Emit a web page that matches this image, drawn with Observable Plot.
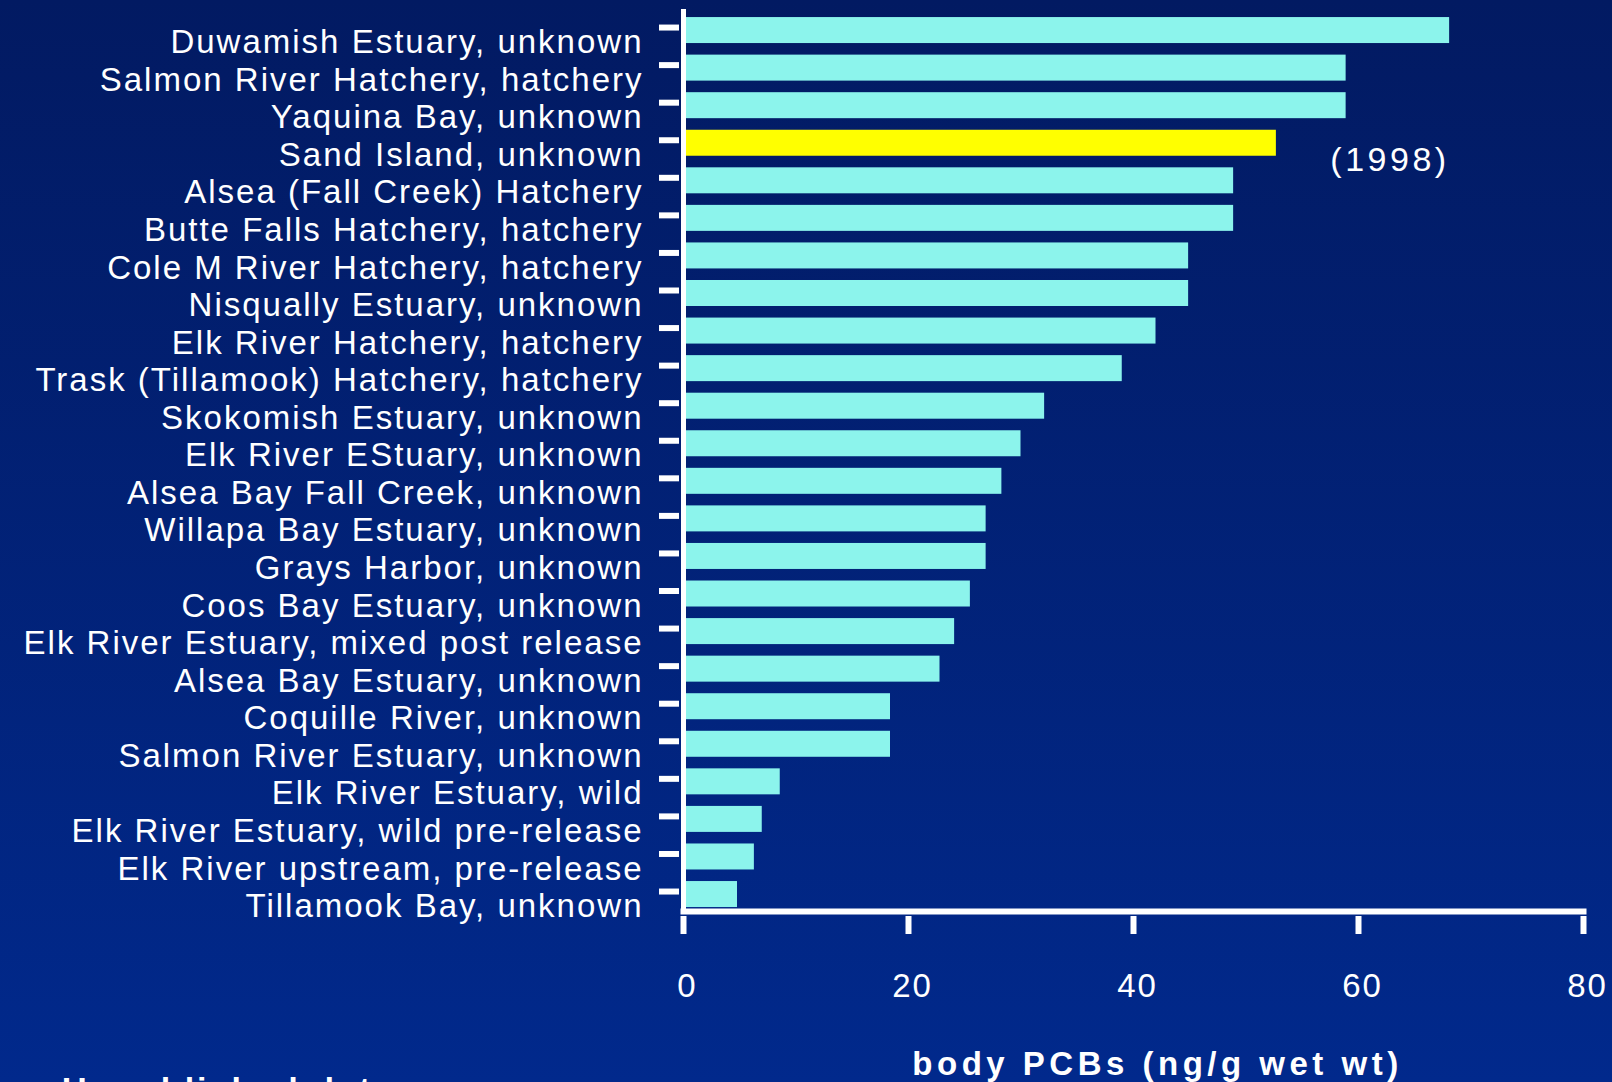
<!DOCTYPE html>
<html><head><meta charset="utf-8">
<script src="https://cdn.jsdelivr.net/npm/d3@7"></script>
<script src="https://cdn.jsdelivr.net/npm/@observablehq/plot@0.6"></script>
<style>
html,body{margin:0;padding:0;width:1612px;height:1082px;overflow:hidden;background:linear-gradient(#021a62,#01298c);}
#chart svg{display:block;background:transparent;}
#chart text{letter-spacing:2px;}
#note{position:absolute;left:62px;top:1070px;font:bold 34px "Liberation Sans",Arial,sans-serif;color:#fff;letter-spacing:3px;white-space:nowrap;}
</style></head><body>
<div id="chart"></div>
<div id="note">Unpublished data</div>
<script>
const sites = [
  "Duwamish Estuary, unknown",
  "Salmon River Hatchery, hatchery",
  "Yaquina Bay, unknown",
  "Sand Island, unknown",
  "Alsea (Fall Creek) Hatchery",
  "Butte Falls Hatchery, hatchery",
  "Cole M River Hatchery, hatchery",
  "Nisqually Estuary, unknown",
  "Elk River Hatchery, hatchery",
  "Trask (Tillamook) Hatchery, hatchery",
  "Skokomish Estuary, unknown",
  "Elk River EStuary, unknown",
  "Alsea Bay Fall Creek, unknown",
  "Willapa Bay Estuary, unknown",
  "Grays Harbor, unknown",
  "Coos Bay Estuary, unknown",
  "Elk River Estuary, mixed post release",
  "Alsea Bay Estuary, unknown",
  "Coquille River, unknown",
  "Salmon River Estuary, unknown",
  "Elk River Estuary, wild",
  "Elk River Estuary, wild pre-release",
  "Elk River upstream, pre-release",
  "Tillamook Bay, unknown"
];
const pcbs = [68.1, 58.9, 58.9, 52.7, 48.9, 48.9, 44.9, 44.9, 42.0, 39.0, 32.1, 30.0,
              28.3, 26.9, 26.9, 25.5, 24.1, 22.8, 18.4, 18.4, 8.6, 7.0, 6.3, 4.8];
const highlighted = ["Sand Island, unknown"];
const xTicks = [0, 20, 40, 60, 80];
const xLabel = "body PCBs (ng/g wet wt)";
const annotations = [{site: "Sand Island, unknown", value: 62.8, text: "(1998)"}];

const data = sites.map((s, i) => ({site: s, value: pcbs[i]}));
const font = '"Liberation Sans", Arial, sans-serif';

const chart = Plot.plot({
  width: 1612, height: 1082,
  marginLeft: 683, marginRight: 29, marginTop: 9, marginBottom: 171,
  style: {background: "transparent", color: "white", fontFamily: font, fontSize: "33px", overflow: "visible"},
  x: {domain: [0, 80], label: null},
  y: {domain: sites, paddingInner: 0.308, paddingOuter: 0.16, align: 0.67, round: false, label: null},
  marks: [
    Plot.barX(data.filter(d => !highlighted.includes(d.site)), {x: "value", y: "site", fill: "#8cf4ec"}),
    Plot.barX(data.filter(d => highlighted.includes(d.site)), {x: "value", y: "site", fill: "#ffff00"}),
    Plot.ruleX([0], {stroke: "white", strokeWidth: 5}),
    Plot.frame({anchor: "bottom", stroke: "white", strokeWidth: 6}),
    Plot.axisY({tickSize: 20, dx: -4, dy: -3, stroke: "white", strokeWidth: 6, fill: "none", label: null}),
    Plot.axisY({tickSize: 0, tickPadding: 40, dy: 12, fill: "white", fontSize: 33, label: null}),
    Plot.axisX({ticks: xTicks, tickSize: 18, dy: 5, stroke: "white", strokeWidth: 6, fill: "none", label: null}),
    Plot.axisX({ticks: xTicks, tickSize: 0, tickPadding: 62, dx: 4, fill: "white", fontSize: 33, label: null}),
    Plot.text(annotations, {x: "value", y: "site", text: "text", dy: 17, fill: "white", fontSize: 34}),
    Plot.text([xLabel], {text: d => d, frameAnchor: "bottom", lineAnchor: "bottom", dx: 24, dy: 163,
                         fill: "white", fontSize: 33, fontWeight: "bold"})
  ]
});
document.getElementById("chart").appendChild(chart);
d3.select(chart).selectAll("text").filter(function() { return this.textContent === xLabel; })
  .style("letter-spacing", "4.5px");
d3.select(chart).selectAll("text").filter(function() { return this.textContent === "(1998)"; })
  .style("letter-spacing", "3.5px");
</script>
</body></html>
